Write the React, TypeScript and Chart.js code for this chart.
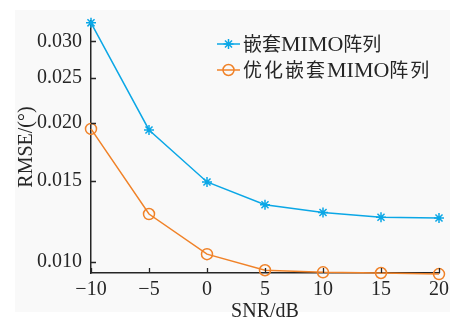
import React, { useEffect, useRef } from 'react';
import { Chart, registerables } from 'chart.js';

Chart.register(...registerables);

const snr = [-10, -5, 0, 5, 10, 15, 20];
const nestedMimo = [0.0329, 0.0193, 0.0149, 0.0133, 0.0128, 0.0125, 0.01245];
const optimizedNestedMimo = [0.0194, 0.0127, 0.0104, 0.0096, 0.0095, 0.00947, 0.00942];
const seriesLabels = ['嵌套MIMO阵列', '优化嵌套MIMO阵列'];
const yTicks = [0.01, 0.015, 0.02, 0.025, 0.03];
const xTicks = [-10, -5, 0, 5, 10, 15, 20];
const xTitle = 'SNR/dB';
const yTitle = 'RMSE/(°)';

const FONT = "'Liberation Serif', 'Times New Roman', 'Noto Sans CJK SC', serif";
const CJK_FONT = "'Noto Sans CJK SC', sans-serif";
const INK = '#262626';
const BLUE = '#0ba7e6';
const ORANGE = '#f08228';

const drawMarker = (ctx: CanvasRenderingContext2D, style: string, x: number, y: number, r: number, color: string) => {
  ctx.save();
  ctx.strokeStyle = color;
  ctx.lineWidth = 1.5;
  ctx.beginPath();
  if (style === 'star') {
    for (let i = 0; i < 4; i++) {
      const a = (i * Math.PI) / 4;
      ctx.moveTo(x - r * Math.cos(a), y - r * Math.sin(a));
      ctx.lineTo(x + r * Math.cos(a), y + r * Math.sin(a));
    }
  } else {
    ctx.arc(x, y, r, 0, Math.PI * 2);
  }
  ctx.stroke();
  ctx.restore();
};

const innerTicks = {
  id: 'innerTicks',
  afterDraw(chart: any) {
    const { ctx, scales, chartArea } = chart;
    ctx.save();
    ctx.strokeStyle = INK;
    ctx.lineWidth = 1.3;
    ctx.beginPath();
    xTicks.forEach((v) => {
      const px = Math.round(scales.x.getPixelForValue(v)) + 0.5;
      ctx.moveTo(px, chartArea.bottom);
      ctx.lineTo(px, chartArea.bottom - 5);
    });
    yTicks.forEach((v) => {
      const py = Math.round(scales.y.getPixelForValue(v)) + 0.5;
      ctx.moveTo(chartArea.left, py);
      ctx.lineTo(chartArea.left + 5, py);
    });
    ctx.stroke();
    ctx.restore();
  },
};

const drawMixedText = (ctx: CanvasRenderingContext2D, text: string, x: number, y: number, cjkSpacing: number) => {
  const runs = text.match(/[\u3400-\u9fff]+|[^\u3400-\u9fff]+/g) || [];
  let cx = x;
  runs.forEach((run) => {
    const isCjk = /[\u3400-\u9fff]/.test(run);
    if (isCjk) {
      ctx.font = `19px ${CJK_FONT}`;
      for (const ch of run) {
        ctx.fillText(ch, cx, y);
        cx += ctx.measureText(ch).width + cjkSpacing;
      }
    } else {
      ctx.font = `22px ${FONT}`;
      ctx.fillText(run, cx, y + 1);
      cx += ctx.measureText(run).width;
    }
  });
};

const lineLegend = {
  id: 'lineLegend',
  afterDraw(chart: any) {
    const { ctx } = chart;
    const x0 = 217;
    const lineLen = 23;
    const rows = [44, 70];
    const spacing = [0, 2];
    ctx.save();
    ctx.textBaseline = 'middle';
    ctx.textAlign = 'left';
    chart.data.datasets.forEach((ds: any, i: number) => {
      const y = rows[i];
      ctx.strokeStyle = ds.borderColor;
      ctx.lineWidth = 1.5;
      ctx.beginPath();
      ctx.moveTo(x0, y);
      ctx.lineTo(x0 + lineLen, y);
      ctx.stroke();
      drawMarker(ctx, ds.pointStyle, x0 + lineLen / 2, y, ds.pointStyle === 'star' ? 5 : 5.5, ds.borderColor);
      ctx.fillStyle = INK;
      drawMixedText(ctx, ds.label, x0 + lineLen + 3, y, spacing[i]);
    });
    ctx.restore();
  },
};

export default function App() {
  const ref = useRef<HTMLCanvasElement | null>(null);

  useEffect(() => {
    if (!ref.current) return;
    const chart = new Chart(ref.current, {
      type: 'line',
      data: {
        labels: snr,
        datasets: [
          {
            label: seriesLabels[0],
            data: snr.map((x, i) => ({ x, y: nestedMimo[i] })),
            borderColor: BLUE,
            backgroundColor: BLUE,
            borderWidth: 1.5,
            pointStyle: 'star',
            pointRadius: 5,
            pointBorderWidth: 1.5,
            pointBackgroundColor: 'transparent',
            tension: 0,
            clip: false as any,
          },
          {
            label: seriesLabels[1],
            data: snr.map((x, i) => ({ x, y: optimizedNestedMimo[i] })),
            borderColor: ORANGE,
            backgroundColor: ORANGE,
            borderWidth: 1.5,
            pointStyle: 'circle',
            pointRadius: 5.5,
            pointBorderWidth: 1.5,
            pointBackgroundColor: 'transparent',
            tension: 0,
            clip: false as any,
          },
        ],
      },
      options: {
        animation: false,
        responsive: false,
        layout: { padding: { top: 14, right: 20, left: 0, bottom: 0 } },
        plugins: { legend: { display: false }, tooltip: { enabled: false } },
        scales: {
          x: {
            type: 'linear',
            min: -10,
            max: 20,
            afterFit: (s: any) => { s.height = 51; },
            afterBuildTicks: (s: any) => { s.ticks = xTicks.map((v) => ({ value: v })); },
            grid: { display: true, drawOnChartArea: false, drawTicks: false },
            border: { display: true, color: INK, width: 1.5 },
            ticks: {
              padding: 5,
              color: INK,
              font: { family: FONT, size: 20 },
              maxRotation: 0,
              callback: (v: any) => (v < 0 ? '\u2212' + Math.abs(v) : String(v)),
            },
            title: { display: true, text: xTitle, color: INK, font: { family: FONT, size: 20 }, padding: { top: 0, bottom: 0 } },
          },
          y: {
            type: 'logarithmic',
            min: 0.00947,
            max: 0.0332,
            afterFit: (s: any) => { s.width = 91; },
            afterBuildTicks: (s: any) => { s.ticks = yTicks.map((v) => ({ value: v })); },
            grid: { display: true, drawOnChartArea: false, drawTicks: false },
            border: { display: true, color: INK, width: 1.5 },
            ticks: {
              padding: 9,
              color: INK,
              font: { family: FONT, size: 20 },
              callback: (v: any) => Number(v).toFixed(3),
            },
            title: { display: true, text: yTitle, color: INK, font: { family: FONT, size: 20 }, padding: { top: 15, bottom: 0 } },
          },
        },
      },
      plugins: [innerTicks, lineLegend],
    });
    return () => chart.destroy();
  }, []);

  return (
    <div style={{ position: 'fixed', left: 0, top: 0, width: 459, height: 324, background: '#ffffff' }}>
      <div style={{ position: 'absolute', left: 15, top: 10, width: 435, height: 302, background: '#f9f9f9' }} />
      <canvas ref={ref} width={459} height={324} style={{ position: 'absolute', left: 0, top: 0, width: 459, height: 324 }} />
    </div>
  );
}
